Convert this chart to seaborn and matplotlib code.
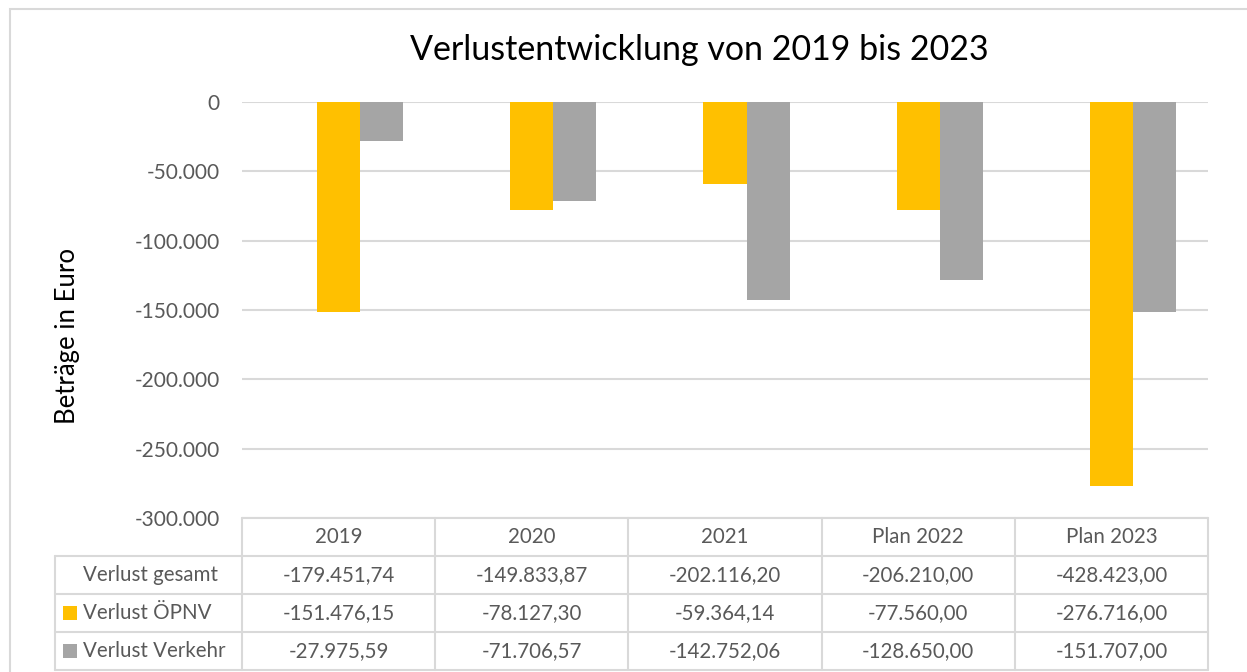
import seaborn as sns
import pandas as pd
from matplotlib import pyplot as plt
from matplotlib.ticker import FuncFormatter
from matplotlib.patches import Rectangle
from matplotlib.lines import Line2D

# Daten
jahre = ['2019', '2020', '2021', 'Plan 2022', 'Plan 2023']
verlust_gesamt = [-179451.74, -149833.87, -202116.20, -206210.00, -428423.00]
verlust_oepnv = [-151476.15, -78127.30, -59364.14, -77560.00, -276716.00]
verlust_verkehr = [-27975.59, -71706.57, -142752.06, -128650.00, -151707.00]
reihen = ['Verlust gesamt', 'Verlust ÖPNV', 'Verlust Verkehr']

GRAU = '#595959'
LINIE = '#D9D9D9'
# "Verlust gesamt" ist im Diagramm als Reihe ohne Füllung angelegt
farben = {'Verlust gesamt': (1, 1, 1, 0), 'Verlust ÖPNV': '#FFC000', 'Verlust Verkehr': '#A5A5A5'}


def de_zahl(v, nachkomma=2):
    s = f'{v:,.{nachkomma}f}'
    return s.replace(',', '#').replace('.', ',').replace('#', '.')


df = pd.DataFrame({'jahr': jahre * 3,
                   'reihe': [r for r in reihen for _ in jahre],
                   'wert': verlust_gesamt + verlust_oepnv + verlust_verkehr})

sns.set_theme(style='white')
plt.rcParams['font.family'] = ['Lato', 'DejaVu Sans']

W, H = 1247, 672
fig = plt.figure(figsize=(W / 100, H / 100), dpi=100)


def fx(x):
    return x / W


def fy(y):
    return 1 - y / H


# Plotbereich in Pixeln
x0, x1, y0, y1 = 242, 1208, 102, 518
ax = fig.add_axes([fx(x0), fy(y1), fx(x1) - fx(x0), fy(y0) - fy(y1)])

sns.barplot(data=df, x='jahr', y='wert', hue='reihe', order=jahre, hue_order=reihen,
            palette=farben, width=0.668, linewidth=0, saturation=1,
            legend=False, ax=ax)

ax.set_ylim(-300000, 0)
ax.set_yticks(range(-300000, 1, 50000))
ax.yaxis.set_major_formatter(FuncFormatter(lambda v, p: de_zahl(v, 0)))
ax.tick_params(axis='y', length=0, pad=16, labelsize=15, labelcolor=GRAU)
ax.set_xticks([])
ax.set_xlabel('')
ax.set_ylabel('')
ax.grid(axis='y', color=LINIE, lw=1.5)
ax.set_axisbelow(True)
for s in ax.spines.values():
    s.set_visible(False)

# Titel und Achsentitel
fig.text(fx(699), fy(50), 'Verlustentwicklung von 2019 bis 2023',
         ha='center', va='center', fontsize=24.5, color='black')
fig.text(fx(67), fy(336), 'Beträge in Euro', rotation=90,
         ha='center', va='center', fontsize=18.5, color='black')

# Rahmen des Diagramms
fig.patches.append(Rectangle((fx(10), fy(700)), fx(1300) - fx(10), fy(9) - fy(700),
                             transform=fig.transFigure, fill=False,
                             edgecolor=LINIE, lw=1.5, clip_on=False))

# Datentabelle
spalten = [x0 + i * (x1 - x0) / 5 for i in range(6)]
zeilen = [518, 556, 594, 632, 670]
links = 55
TAB_FS = 14.8


def linie(xa, ya, xb, yb):
    fig.add_artist(Line2D([fx(xa), fx(xb)], [fy(ya), fy(yb)], color=LINIE, lw=1.5))


linie(x0, zeilen[0], x1, zeilen[0])
for y in zeilen[1:]:
    linie(links, y, x1, y)
for x in spalten:
    linie(x, zeilen[0], x, zeilen[-1])
linie(links, zeilen[1], links, zeilen[-1])

for i, j in enumerate(jahre):
    xm = (spalten[i] + spalten[i + 1]) / 2
    fig.text(fx(xm), fy((zeilen[0] + zeilen[1]) / 2), j, ha='center', va='center',
             fontsize=TAB_FS, color=GRAU)

werte = [verlust_gesamt, verlust_oepnv, verlust_verkehr]
for r, (name, vals) in enumerate(zip(reihen, werte)):
    ym = (zeilen[r + 1] + zeilen[r + 2]) / 2
    fig.text(fx(83), fy(ym), name, ha='left', va='center', fontsize=TAB_FS, color=GRAU)
    if name != 'Verlust gesamt':
        fig.patches.append(Rectangle((fx(63), fy(ym + 7)), fx(14), 14 / H,
                                     transform=fig.transFigure,
                                     color=farben[name], lw=0))
    for i, v in enumerate(vals):
        xm = (spalten[i] + spalten[i + 1]) / 2
        fig.text(fx(xm), fy(ym), de_zahl(v), ha='center', va='center',
                 fontsize=TAB_FS, color=GRAU)

fig.savefig('out.png', dpi=100, facecolor='white')
